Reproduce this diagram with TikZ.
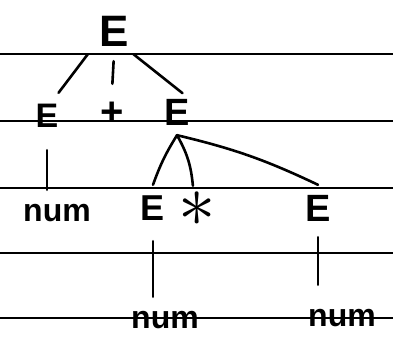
\documentclass[tikz,border=0pt]{standalone}
\usepackage{fontspec}
\setmainfont{Liberation Sans}
\begin{document}
\begin{tikzpicture}[x=1pt,y=-1pt,
  rule/.style={line width=2pt, black},
  edge/.style={line width=2.6pt, line cap=round, black},
  sym/.style={inner sep=0pt, minimum height=46pt, font=\fontsize{#1}{#1}\selectfont\bfseries},
  sym/.default=32]
\useasboundingbox (0,0) rectangle (393,351);
% ruled paper lines
\foreach \y in {54,121,188,253,318}
  \draw[rule] (0,\y) -- (393,\y);
% nodes
\node[sym=44, minimum width=52pt] (E0) at (114,31) {E};
\node[sym=34] (E1) at (47,116) {E};
\node[sym=40] (plus) at (112,114) {+};
\node[sym=38] (E2) at (177,112) {E};
\node[sym=32] (num1) at (57,213) {num};
\node[sym=36] (E3) at (153,208) {E};
\node[sym=32] (star) at (197,209) {\scalebox{3}{$\ast$}};
\node[sym=38] (E5) at (318,208) {E};
\node[sym=32] (num2) at (165,320) {num};
\node[sym=32] (num3) at (342,318) {num};
% connectors
\draw[edge] (E0.south west) -- (E1.north east);
\draw[edge, shorten <=7pt, shorten >=7pt] (E0.south) -- (plus.north);
\draw[edge, shorten >=-7pt] (E0.-50) -- (E2.north);
\draw[edge, shorten <=11pt] (E1.south) -- (E1.south |- num1.north);
\draw[edge] (E2.south) to[bend right=6] (E3.north);
\draw[edge] (E2.south) to[bend left=12] (star.100);
\draw[edge] (E2.south) to[bend left=6] (E5.north);
\draw[edge, shorten <=10pt] (E3.south) -- (E3.south |- num2.north);
\draw[edge, shorten <=6pt, shorten >=10pt] (E5.south) -- (E5.south |- num3.north);
\end{tikzpicture}
\end{document}
